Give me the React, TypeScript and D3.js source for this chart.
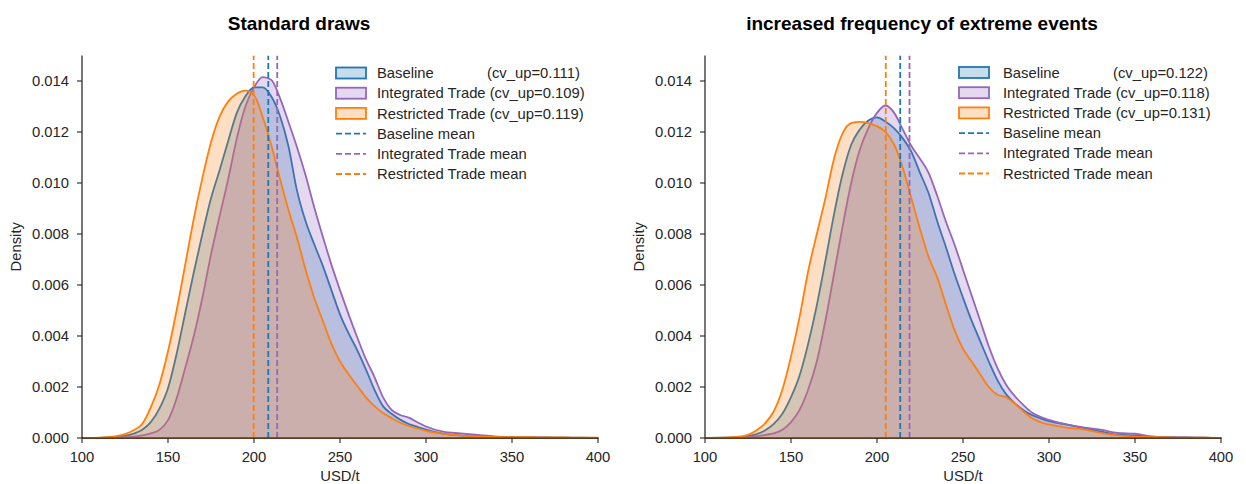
import React from 'react';
import * as d3 from 'd3';

// ---------- data (densities are given in units of 1e-3) ----------
const PRICES = [100, 110, 120, 125, 130, 135, 140, 145, 150, 155, 160, 165, 170, 175, 180, 185, 190, 195, 200, 205, 210, 215, 220, 225, 230, 235, 240, 245, 250, 255, 260, 265, 270, 275, 280, 285, 290, 295, 300, 310, 320, 330, 340, 350, 360, 370, 380, 390, 400];

const STD_BASELINE = [0, 0.005, 0.04, 0.08, 0.17, 0.32, 0.62, 1.15, 1.95, 3.3, 4.9, 6.5, 8.0, 9.4, 10.5, 11.65, 12.75, 13.4, 13.75, 13.75, 13.4, 12.65, 11.45, 9.7, 8.5, 7.6, 6.75, 5.8, 4.85, 4.1, 3.45, 2.7, 1.9, 1.25, 0.95, 0.72, 0.55, 0.44, 0.33, 0.17, 0.1, 0.07, 0.04, 0.03, 0.02, 0.02, 0.01, 0.01, 0];
const STD_INTEGRATED = [0, 0, 0.01, 0.03, 0.05, 0.1, 0.18, 0.32, 0.7, 1.55, 2.75, 4.0, 5.5, 7.2, 8.7, 10.15, 11.75, 13.0, 13.75, 14.15, 14.05, 13.35, 12.4, 11.4, 10.3, 9.05, 7.9, 6.8, 5.8, 4.85, 3.95, 3.1, 2.4, 1.6, 1.1, 0.9, 0.8, 0.62, 0.45, 0.25, 0.18, 0.12, 0.06, 0.03, 0.02, 0.01, 0.01, 0, 0];
const STD_RESTRICTED = [0, 0.01, 0.07, 0.15, 0.3, 0.55, 1.2, 2.1, 3.4, 5.0, 6.8, 8.6, 10.2, 11.6, 12.6, 13.2, 13.5, 13.62, 13.45, 12.6, 11.5, 10.2, 8.95, 7.85, 6.6, 5.5, 4.6, 3.7, 3.0, 2.5, 2.05, 1.6, 1.25, 0.98, 0.78, 0.6, 0.47, 0.37, 0.28, 0.17, 0.1, 0.06, 0.04, 0.03, 0.03, 0.02, 0.02, 0.01, 0.01];

const EXT_BASELINE = [0, 0.01, 0.03, 0.07, 0.15, 0.3, 0.55, 0.95, 1.6, 2.45, 3.7, 5.2, 6.95, 8.77, 10.35, 11.5, 12.1, 12.45, 12.57, 12.4, 12.14, 11.75, 11.22, 10.4, 9.6, 8.5, 7.5, 6.45, 5.5, 4.6, 3.8, 3.0, 2.27, 1.72, 1.37, 1.1, 0.9, 0.77, 0.66, 0.53, 0.4, 0.26, 0.13, 0.1, 0.04, 0.03, 0.02, 0.01, 0];
const EXT_INTEGRATED = [0, 0, 0.01, 0.03, 0.06, 0.12, 0.18, 0.32, 0.62, 1.1, 1.9, 3.0, 4.6, 6.43, 8.3, 10.0, 11.3, 12.15, 12.75, 13.04, 12.75, 12.1, 11.45, 10.95, 10.4, 9.5, 8.5, 7.6, 6.6, 5.6, 4.6, 3.6, 2.75, 2.1, 1.65, 1.3, 1.0, 0.83, 0.71, 0.53, 0.42, 0.33, 0.2, 0.17, 0.06, 0.03, 0.02, 0.01, 0];
const EXT_RESTRICTED = [0, 0.01, 0.05, 0.12, 0.3, 0.58, 1.05, 1.9, 3.2, 4.75, 6.55, 8.0, 9.4, 10.95, 11.95, 12.35, 12.4, 12.35, 12.23, 12.0, 11.5, 10.6, 9.4, 8.2, 7.1, 6.3, 5.25, 4.25, 3.5, 3.0, 2.5, 2.0, 1.7, 1.6, 1.36, 1.05, 0.78, 0.62, 0.53, 0.41, 0.34, 0.2, 0.1, 0.05, 0.03, 0.02, 0.01, 0.01, 0];

const SERIES_NAMES = ['Baseline', 'Integrated Trade', 'Restricted Trade'];
const SERIES_COLORS = ['#1f77b4', '#9467bd', '#ff7f0e'];
const STD_CV = ['0.111', '0.109', '0.119'];
const EXT_CV = ['0.122', '0.118', '0.131'];
const STD_MEANS = [208.3, 213.5, 199.8];
const EXT_MEANS = [213.5, 218.9, 205.1];
const TITLES = ['Standard draws', 'increased frequency of extreme events'];

const X_TICKS = [100, 150, 200, 250, 300, 350, 400];
const Y_TICKS = [0, 0.002, 0.004, 0.006, 0.008, 0.01, 0.012, 0.014];
const X_DOMAIN = [100, 400];
const Y_DOMAIN = [0, 0.0150];

// ---------- layout ----------
const W = 1246;
const H = 484;
const AX_W = 516;
const AX_BOTTOM = 438;
const AX_TOP = AX_BOTTOM - 0.015 * 25500;
const PANEL_X0 = [82, 705];
const LEGEND_TEXT_DX = [295, 298];
const LEGEND_CV_DX = [405, 408];
const LEGEND_Y0 = [73, 72.5];
const FONT = '"Liberation Sans", Arial, Helvetica, sans-serif';
const INK = '#262626';
const FS = 14.8;

type PanelProps = {
  idx: number;
  x0: number;
  title: string;
  densities: number[][];
  means: number[];
  cvs: string[];
};

function Panel({ idx, x0, title, densities, means, cvs }: PanelProps) {
  const x = d3.scaleLinear().domain(X_DOMAIN).range([x0, x0 + AX_W]);
  const y = d3.scaleLinear().domain(Y_DOMAIN).range([AX_BOTTOM, AX_TOP]);
  const area = d3
    .area<[number, number]>()
    .x((d) => x(d[0]))
    .y0(y(0))
    .y1((d) => y(Math.max(0, d[1])))
    .curve(d3.curveMonotoneX);
  const clipId = `clip-${idx}`;
  const legX = x0 + 254;
  const legTextX = x0 + LEGEND_TEXT_DX[idx];
  const legCvX = x0 + LEGEND_CV_DX[idx];
  const legY0 = LEGEND_Y0[idx];
  const rowH = 20.2;

  return (
    <g>
      <defs>
        <clipPath id={clipId}>
          <rect x={x0} y={AX_TOP} width={AX_W + 2} height={AX_BOTTOM - AX_TOP + 2} />
        </clipPath>
      </defs>
      <text x={x0 + 217} y={30} textAnchor="middle" fontSize={19} fontWeight="bold" fill="#000" fontFamily={FONT}>
        {title}
      </text>
      <g clipPath={`url(#${clipId})`}>
        {densities.map((vals, i) => {
          const pts: [number, number][] = PRICES.map((p, k) => [p, vals[k] / 1000]);
          return (
            <path
              key={i}
              d={area(pts) || ''}
              fill={SERIES_COLORS[i]}
              fillOpacity={0.25}
              stroke={SERIES_COLORS[i]}
              strokeWidth={1.8}
              strokeLinejoin="round"
            />
          );
        })}
        {means.map((m, i) => (
          <line
            key={i}
            x1={x(m)}
            x2={x(m)}
            y1={AX_BOTTOM}
            y2={AX_TOP}
            stroke={SERIES_COLORS[i]}
            strokeWidth={1.8}
            strokeDasharray="6,3"
          />
        ))}
      </g>
      {/* spines */}
      <line x1={x0} x2={x0} y1={AX_TOP} y2={AX_BOTTOM} stroke={INK} strokeWidth={1.25} />
      <line x1={x0} x2={x0 + AX_W} y1={AX_BOTTOM} y2={AX_BOTTOM} stroke={INK} strokeWidth={1.25} />
      {/* x ticks */}
      {X_TICKS.map((t) => (
        <g key={t}>
          <line x1={x(t)} x2={x(t)} y1={AX_BOTTOM} y2={AX_BOTTOM + 5} stroke={INK} strokeWidth={1.1} />
          <text x={x(t)} y={462} textAnchor="middle" fontSize={FS} fill={INK} fontFamily={FONT}>
            {t}
          </text>
        </g>
      ))}
      {/* y ticks */}
      {Y_TICKS.map((t) => (
        <g key={t}>
          <line x1={x0 - 5} x2={x0} y1={y(t)} y2={y(t)} stroke={INK} strokeWidth={1.1} />
          <text x={x0 - 13} y={y(t)} dy="0.35em" textAnchor="end" fontSize={FS} fill={INK} fontFamily={FONT}>
            {t.toFixed(3)}
          </text>
        </g>
      ))}
      <text x={x0 + AX_W / 2} y={481} textAnchor="middle" fontSize={FS} fill={INK} fontFamily={FONT}>
        USD/t
      </text>
      <text
        transform={`translate(${x0 - 61},${(AX_TOP + AX_BOTTOM) / 2}) rotate(-90)`}
        textAnchor="middle"
        fontSize={FS}
        fill={INK}
        fontFamily={FONT}
      >
        Density
      </text>
      {/* legend: distributions */}
      {SERIES_NAMES.map((name, i) => {
        const cy = legY0 + i * rowH;
        return (
          <g key={name}>
            <rect x={legX} y={cy - 5.5} width={30} height={11} fill={SERIES_COLORS[i]} fillOpacity={0.25} stroke={SERIES_COLORS[i]} strokeWidth={1.8} />
            {i === 0 ? (
              <>
                <text x={legTextX} y={cy} dy="0.35em" fontSize={FS} fill={INK} fontFamily={FONT}>
                  {name}
                </text>
                <text x={legCvX} y={cy} dy="0.35em" fontSize={FS} fill={INK} fontFamily={FONT}>
                  {`(cv_up=${cvs[i]})`}
                </text>
              </>
            ) : (
              <text x={legTextX} y={cy} dy="0.35em" fontSize={FS} fill={INK} fontFamily={FONT}>
                {`${name} (cv_up=${cvs[i]})`}
              </text>
            )}
          </g>
        );
      })}
      {/* legend: means */}
      {SERIES_NAMES.map((name, i) => {
        const cy = legY0 + (i + 3) * rowH;
        return (
          <g key={name + '-mean'}>
            <line x1={legX} x2={legX + 30} y1={cy} y2={cy} stroke={SERIES_COLORS[i]} strokeWidth={1.8} strokeDasharray="6,3" />
            <text x={legTextX} y={cy} dy="0.35em" fontSize={FS} fill={INK} fontFamily={FONT}>
              {`${name} mean`}
            </text>
          </g>
        );
      })}
    </g>
  );
}

export default function App() {
  const panels = [
    { densities: [STD_BASELINE, STD_INTEGRATED, STD_RESTRICTED], means: STD_MEANS, cvs: STD_CV },
    { densities: [EXT_BASELINE, EXT_INTEGRATED, EXT_RESTRICTED], means: EXT_MEANS, cvs: EXT_CV },
  ];
  return (
    <svg
      width={W}
      height={H}
      viewBox={`0 0 ${W} ${H}`}
      style={{ position: 'absolute', left: 0, top: 0, background: '#fff' }}
    >
      <rect x={0} y={0} width={W} height={H} fill="#fff" />
      {panels.map((p, idx) => (
        <Panel
          key={idx}
          idx={idx}
          x0={PANEL_X0[idx]}
          title={TITLES[idx]}
          densities={p.densities}
          means={p.means}
          cvs={p.cvs}
        />
      ))}
    </svg>
  );
}
